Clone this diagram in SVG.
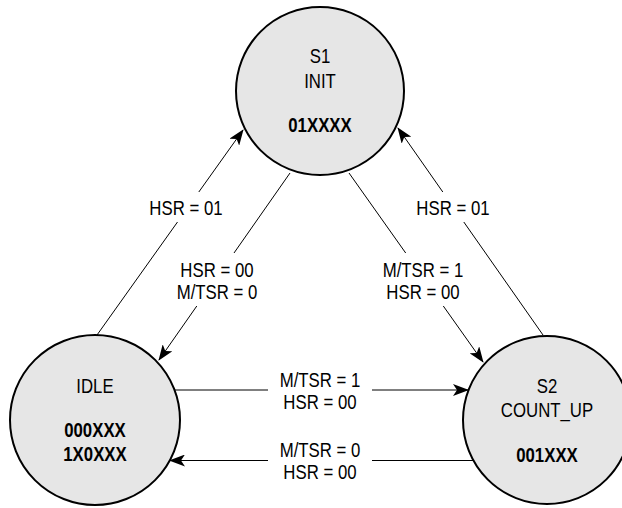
<svg xmlns="http://www.w3.org/2000/svg" width="622" height="508" viewBox="0 0 622 508">
  <style>
    .node { fill: #e6e6e6; stroke: #000; stroke-width: 2; }
    .edge { fill: none; stroke: #000; stroke-width: 1; marker-end: url(#arrow); }
    text { font-family: "Liberation Sans", Arial, sans-serif; font-size: 20px; text-anchor: middle; fill: #000; }
    .b { font-weight: bold; }
  </style>
  <defs>
    <marker id="arrow" viewBox="0 0 16 12" refX="15" refY="6" markerWidth="16" markerHeight="12" markerUnits="userSpaceOnUse" orient="auto">
      <path d="M0,0 L16,6 L0,12 L4,6 Z" fill="#000"/>
    </marker>
  </defs>
  <rect width="622" height="508" fill="#fff"/>
  <g id="connectors">
    <path class="edge" d="M97,335 L177.5,222 M198.8,192 L243,130"/>
    <path class="edge" d="M290,173 L234,253 M196.8,306 L159,360"/>
    <path class="edge" d="M349,173 L405.7,253 M443.3,306 L483,362"/>
    <path class="edge" d="M543,335 L463.8,222 M442.8,192 L398,128"/>
    <path class="edge" d="M174.5,390 L268,390 M372,390 L468,390"/>
    <path class="edge" d="M473,460.5 L372,460.5 M268,460.5 L170,460.5"/>
    <text transform="translate(186,215) scale(0.84,1)">HSR = 01</text>
    <text transform="translate(217,277) scale(0.84,1)">HSR = 00</text>
    <text transform="translate(217,299) scale(0.84,1)">M/TSR = 0</text>
    <text transform="translate(423,277) scale(0.84,1)">M/TSR = 1</text>
    <text transform="translate(423,299) scale(0.84,1)">HSR = 00</text>
    <text transform="translate(453,215) scale(0.84,1)">HSR = 01</text>
    <text transform="translate(320,387) scale(0.84,1)">M/TSR = 1</text>
    <text transform="translate(320,409) scale(0.84,1)">HSR = 00</text>
    <text transform="translate(320,457) scale(0.84,1)">M/TSR = 0</text>
    <text transform="translate(320,479) scale(0.84,1)">HSR = 00</text>
  </g>
  <g id="S1">
    <circle class="node" cx="320" cy="91" r="84"/>
    <text transform="translate(320,63) scale(0.84,1)">S1</text>
    <text transform="translate(320,88) scale(0.84,1)">INIT</text>
    <text class="b" transform="translate(320,132) scale(0.84,1)">01XXXX</text>
  </g>
  <g id="IDLE">
    <circle class="node" cx="95" cy="420" r="85"/>
    <text transform="translate(95,393) scale(0.84,1)">IDLE</text>
    <text class="b" transform="translate(95,437) scale(0.84,1)">000XXX</text>
    <text class="b" transform="translate(95,461) scale(0.84,1)">1X0XXX</text>
  </g>
  <g id="S2">
    <circle class="node" cx="547" cy="420" r="84"/>
    <text transform="translate(547,393) scale(0.84,1)">S2</text>
    <text transform="translate(547,417) scale(0.84,1)">COUNT_UP</text>
    <text class="b" transform="translate(547,462) scale(0.84,1)">001XXX</text>
  </g>
</svg>
